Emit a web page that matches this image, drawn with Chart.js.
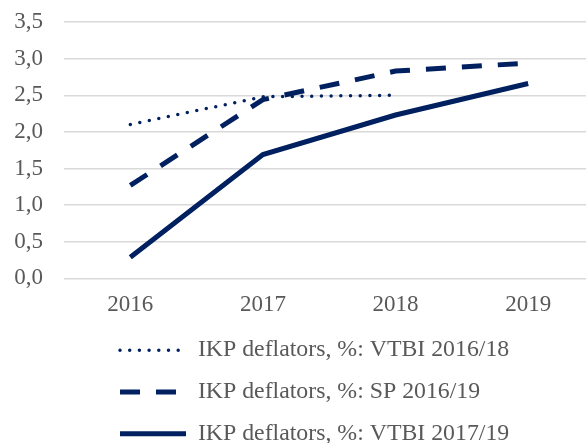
<!DOCTYPE html>
<html>
<head>
<meta charset="utf-8">
<script src="https://cdn.jsdelivr.net/npm/chart.js@4"></script>
<style>
html,body{margin:0;padding:0;background:#fff;overflow:hidden;}
#wrap{width:596px;height:443px;position:relative;}
</style>
</head>
<body>
<div id="wrap"><canvas id="c" width="596" height="443"></canvas></div>
<script>
const categories = ['2016', '2017', '2018', '2019'];
const vtbi1618 = [2.1, 2.48, 2.5, null];
const sp1619 = [1.27, 2.44, 2.83, 2.94];
const vtbi1719 = [0.29, 1.69, 2.23, 2.66];
const seriesNames = ['IKP deflators, %: VTBI 2016/18', 'IKP deflators, %: SP 2016/19', 'IKP deflators, %: VTBI 2017/19'];
const yTickLabels = ['0,0', '0,5', '1,0', '1,5', '2,0', '2,5', '3,0', '3,5'];

const navy = '#002060';
const textColor = '#595959';
const fontFamily = '"Liberation Serif", "Times New Roman", serif';

const legendShift = {
  id: 'legendShift',
  afterLayout(chart) {
    const l = chart.legend;
    const dx = 102 - l.left;
    const dy = 320.25 - l.top;
    l.left += dx; l.right += dx; l.top += dy;
    l.bottom = chart.height;
    l.height = l.bottom - l.top;
    l.width = l.right - l.left;
  }
};

new Chart(document.getElementById('c'), {
  type: 'line',
  data: {
    labels: categories,
    datasets: [
      { label: seriesNames[0], data: vtbi1618, borderColor: navy, backgroundColor: navy, borderWidth: 3.5, borderDash: [0, 9.7], borderCapStyle: 'round', pointRadius: 0, tension: 0 },
      { label: seriesNames[1], data: sp1619, borderColor: navy, backgroundColor: navy, borderWidth: 5, borderDash: [20, 16], borderCapStyle: 'butt', pointRadius: 0, tension: 0 },
      { label: seriesNames[2], data: vtbi1719, borderColor: navy, backgroundColor: navy, borderWidth: 5, borderCapStyle: 'butt', pointRadius: 0, tension: 0 }
    ]
  },
  options: {
    responsive: false,
    animation: false,
    spanGaps: false,
    layout: { padding: { top: 22, right: 1.5, left: 0, bottom: 0 } },
    scales: {
      x: {
        offset: true,
        grid: { display: false, drawTicks: false },
        border: { display: false },
        ticks: { color: textColor, font: { family: fontFamily, size: 23 }, padding: 13 }
      },
      y: {
        min: 0, max: 3.5,
        grid: { color: '#d9d9d9', lineWidth: 1.5, drawTicks: false },
        border: { display: false },
        afterFit(scale) { scale.paddingTop = 0; scale.paddingBottom = 0; scale.width = 64; },
        ticks: {
          stepSize: 0.5,
          color: textColor,
          font: { family: fontFamily, size: 23 },
          padding: 21,
          callback: (v, i) => yTickLabels[i]
        }
      }
    },
    plugins: {
      legend: {
        position: 'bottom',
        align: 'start',
        maxHeight: 111,
        labels: {
          usePointStyle: true,
          pointStyle: 'line',
          pointStyleWidth: 66,
          padding: 18,
          color: textColor,
          font: { family: fontFamily, size: 23.8 },
          generateLabels(chart) {
            const items = Chart.defaults.plugins.legend.labels.generateLabels(chart);
            items.forEach(it => {
              const ds = chart.data.datasets[it.datasetIndex];
              it.lineDash = ds.borderDash || [];
              it.lineWidth = ds.borderWidth;
              it.lineCap = ds.borderCapStyle;
              it.strokeStyle = ds.borderColor;
              it.pointStyle = 'line';
            });
            return items;
          }
        }
      },
      tooltip: { enabled: false }
    }
  },
  plugins: [legendShift]
});
</script>
</body>
</html>
